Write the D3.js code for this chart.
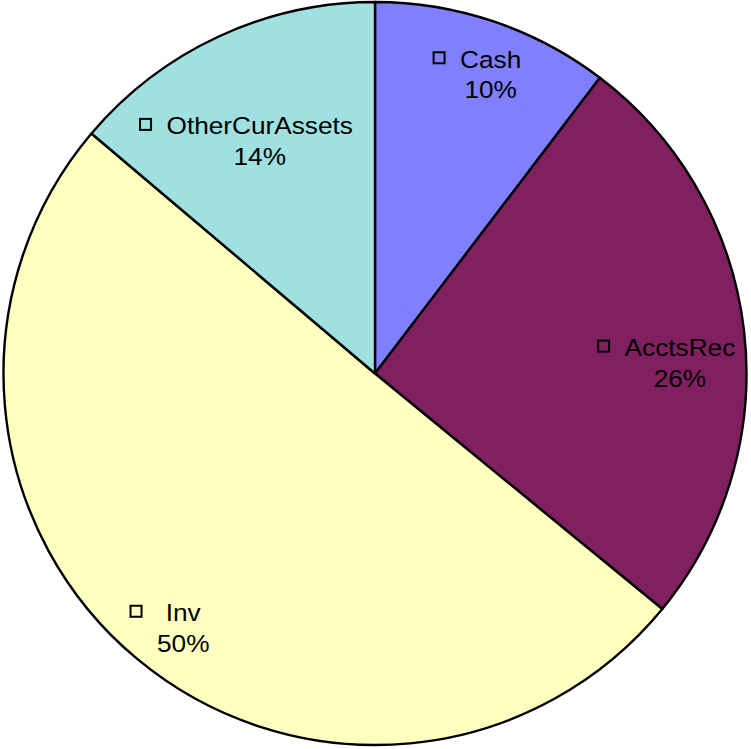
<!DOCTYPE html>
<html>
<head>
<meta charset="utf-8">
<script src="https://cdn.jsdelivr.net/npm/d3@7"></script>
<style>
html,body{margin:0;padding:0;background:#fff;}
svg{display:block;}
</style>
</head>
<body>
<svg id="chart" width="751" height="749"></svg>
<script>
// ---- data ----
const categories = ["Cash", "AcctsRec", "Inv", "OtherCurAssets"];
const values = [10.35, 25.58, 50.25, 13.82];
const colors = ["#8080FF", "#802060", "#FFFFC0", "#A0E0E0"];

// ---- layout (label placement nudges, px) ----
const labelNudge = [[16, -2], [-5, 27], [8, 16], [16, 52]];

const W = 751, H = 749;
const cx = 375, cy = 373.5, R = 371.5;
const svg = d3.select("#chart");
const g = svg.append("g").attr("transform", `translate(${cx},${cy})`);

const pie = d3.pie().sort(null).value(d => d.v);
const data = categories.map((c, i) => ({ c, v: values[i], col: colors[i], i }));
const arcs = pie(data);
const total = d3.sum(values);

const arc = d3.arc().innerRadius(0).outerRadius(R);
const labelArc = d3.arc().innerRadius(R * 0.84).outerRadius(R * 0.84);

g.selectAll("path.slice")
  .data(arcs)
  .join("path")
  .attr("class", "slice")
  .attr("d", arc)
  .attr("fill", d => d.data.col)
  .attr("stroke", "#000")
  .attr("stroke-width", 2.4)
  .attr("stroke-linejoin", "round");

const fontSize = 24.5, sx = 1.07, lineH = 30.5;

arcs.forEach((d, i) => {
  const [px, py] = labelArc.centroid(d);
  const lx = px + labelNudge[i][0];
  const ly = py + labelNudge[i][1];
  const pct = Math.round(d.data.v / total * 100) + "%";
  const lg = g.append("g").attr("transform", `translate(${lx},${ly})`);
  const tg = lg.append("g").attr("transform", `scale(${sx},1)`);
  const b1 = -8; // baseline of first line relative to anchor
  const t1 = tg.append("text")
    .attr("x", 0).attr("y", b1)
    .attr("text-anchor", "middle")
    .attr("font-family", "Liberation Sans, Arial, sans-serif")
    .attr("font-size", fontSize)
    .attr("fill", "#000")
    .text(d.data.c);
  const t2 = tg.append("text")
    .attr("x", 0).attr("y", b1 + lineH)
    .attr("text-anchor", "middle")
    .attr("font-family", "Liberation Sans, Arial, sans-serif")
    .attr("font-size", fontSize)
    .attr("fill", "#000")
    .text(pct);
  const w = Math.max(t1.node().getComputedTextLength(), t2.node().getComputedTextLength()) * sx;
  const mx = -w / 2 - 21;
  lg.append("rect")
    .attr("x", mx - 5.5).attr("y", b1 - 10 - 5.5)
    .attr("width", 11).attr("height", 11)
    .attr("fill", d.data.col)
    .attr("stroke", "#000")
    .attr("stroke-width", 2);
});
</script>
</body>
</html>
